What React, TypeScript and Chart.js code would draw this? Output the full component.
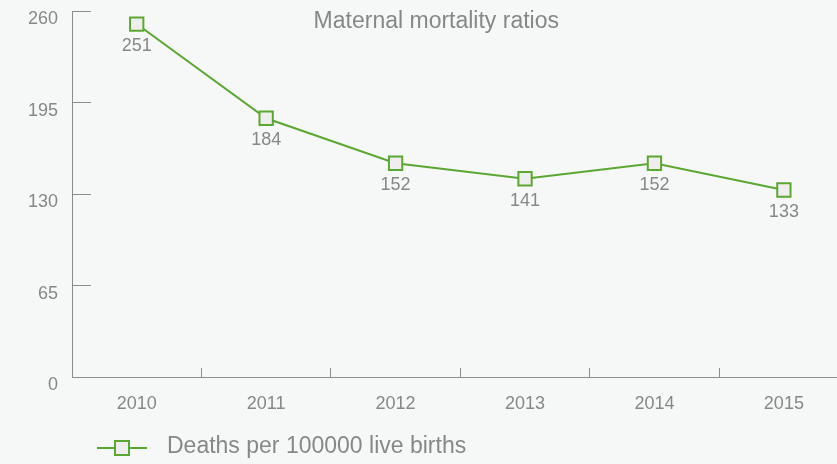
import React, { useEffect, useRef } from 'react';
import { Chart, registerables } from 'chart.js';

Chart.register(...registerables);

const years = ['2010', '2011', '2012', '2013', '2014', '2015'];
const ratios = [251, 184, 152, 141, 152, 133];
const yMin = 0;
const yMax = 260;
const yStep = 65;
const seriesLabel = 'Deaths per 100000 live births';
const titleText = 'Maternal mortality ratios';

const GREEN = '#5ca632';
const GRAY = '#878787';
const AXIS = '#8c8c8c';
const POINT_FILL = '#eeeeee';
const BG = '#f6f8f8';
const FONT = '"Liberation Sans", Arial, sans-serif';

const valueLabels = {
  id: 'valueLabels',
  afterDatasetsDraw(chart: any) {
    const ctx = chart.ctx;
    const meta = chart.getDatasetMeta(0);
    const data = chart.data.datasets[0].data;
    ctx.save();
    ctx.fillStyle = GRAY;
    ctx.font = `18px ${FONT}`;
    ctx.textAlign = 'center';
    ctx.textBaseline = 'middle';
    meta.data.forEach((pt: any, i: number) => {
      ctx.fillText(String(data[i]), pt.x, pt.y + 22);
    });
    ctx.restore();
  },
};

const yAxisLine = {
  id: 'yAxisLine',
  afterDraw(chart: any) {
    const { ctx } = chart;
    const y = chart.scales.y;
    ctx.save();
    ctx.fillStyle = AXIS;
    ctx.fillRect(Math.round(y.right), Math.round(y.top), 1, Math.round(y.bottom - y.top) + 1);
    ctx.restore();
  },
};

const titlePlugin = {
  id: 'innerTitle',
  afterDraw(chart: any) {
    const { ctx, chartArea } = chart;
    ctx.save();
    ctx.fillStyle = GRAY;
    ctx.font = `23px ${FONT}`;
    ctx.textAlign = 'center';
    ctx.textBaseline = 'middle';
    ctx.fillText(titleText, (chartArea.left + chartArea.right) / 2 - 24, chartArea.top + 10);
    ctx.restore();
  },
};

const legendPlugin = {
  id: 'lineLegend',
  afterDraw(chart: any) {
    const { ctx, chartArea } = chart;
    const ds = chart.data.datasets[0];
    const x0 = chartArea.left + 25;
    const y = chartArea.bottom + 71;
    ctx.save();
    ctx.strokeStyle = ds.borderColor;
    ctx.lineWidth = 2;
    ctx.beginPath();
    ctx.moveTo(x0, y);
    ctx.lineTo(x0 + 50, y);
    ctx.stroke();
    ctx.fillStyle = ds.pointBackgroundColor;
    ctx.beginPath();
    ctx.rect(x0 + 25 - 7, y - 7, 14, 14);
    ctx.fill();
    ctx.stroke();
    ctx.fillStyle = GRAY;
    ctx.font = `23px ${FONT}`;
    ctx.textAlign = 'left';
    ctx.textBaseline = 'middle';
    ctx.fillText(ds.label, x0 + 70, y - 1);
    ctx.restore();
  },
};

export default function App() {
  const ref = useRef<HTMLCanvasElement | null>(null);

  useEffect(() => {
    document.body.style.margin = '0';
    document.body.style.background = BG;
    const canvas = ref.current;
    if (!canvas) return;
    const chart = new Chart(canvas, {
      type: 'line',
      data: {
        labels: years,
        datasets: [
          {
            label: seriesLabel,
            data: ratios,
            borderColor: GREEN,
            borderWidth: 2,
            pointStyle: 'rect',
            pointRadius: 9.4,
            pointHoverRadius: 9.4,
            pointBorderWidth: 2,
            pointBorderColor: GREEN,
            pointBackgroundColor: POINT_FILL,
            tension: 0,
            fill: false,
          },
        ],
      },
      options: {
        responsive: false,
        animation: false,
        devicePixelRatio: 1,
        layout: { padding: { top: 11, right: 8, bottom: 47, left: 0 } },
        plugins: {
          legend: { display: false },
          title: { display: false },
          tooltip: { enabled: false },
        },
        scales: {
          x: {
            type: 'category',
            offset: true,
            grid: {
              offset: true,
              drawOnChartArea: false,
              drawTicks: true,
              tickLength: -9,
              color: AXIS,
              lineWidth: 1,
            },
            border: { display: true, color: AXIS, width: 1 },
            ticks: {
              color: GRAY,
              font: { family: FONT, size: 18 },
              padding: 25,
              maxRotation: 0,
              autoSkip: false,
            },
            afterFit: (s: any) => {
              s.height = 40;
              s.paddingLeft = 0;
              s.paddingRight = 0;
            },
          },
          y: {
            type: 'linear',
            min: yMin,
            max: yMax,
            grid: {
              drawOnChartArea: false,
              drawTicks: true,
              tickLength: -19,
              color: AXIS,
              lineWidth: 1,
            },
            border: { display: false },
            ticks: {
              stepSize: yStep,
              color: GRAY,
              font: { family: FONT, size: 18 },
              padding: 33,
              labelOffset: 8,
            },
            afterFit: (s: any) => {
              s.width = 72;
              s.paddingTop = 0;
              s.paddingBottom = 0;
            },
          },
        },
      },
      plugins: [valueLabels, yAxisLine, titlePlugin, legendPlugin],
    });
    return () => chart.destroy();
  }, []);

  return (
    <div style={{ width: 837, height: 464, overflow: 'hidden', background: BG, position: 'relative' }}>
      <canvas ref={ref} width={860} height={464} style={{ display: 'block' }} />
    </div>
  );
}
